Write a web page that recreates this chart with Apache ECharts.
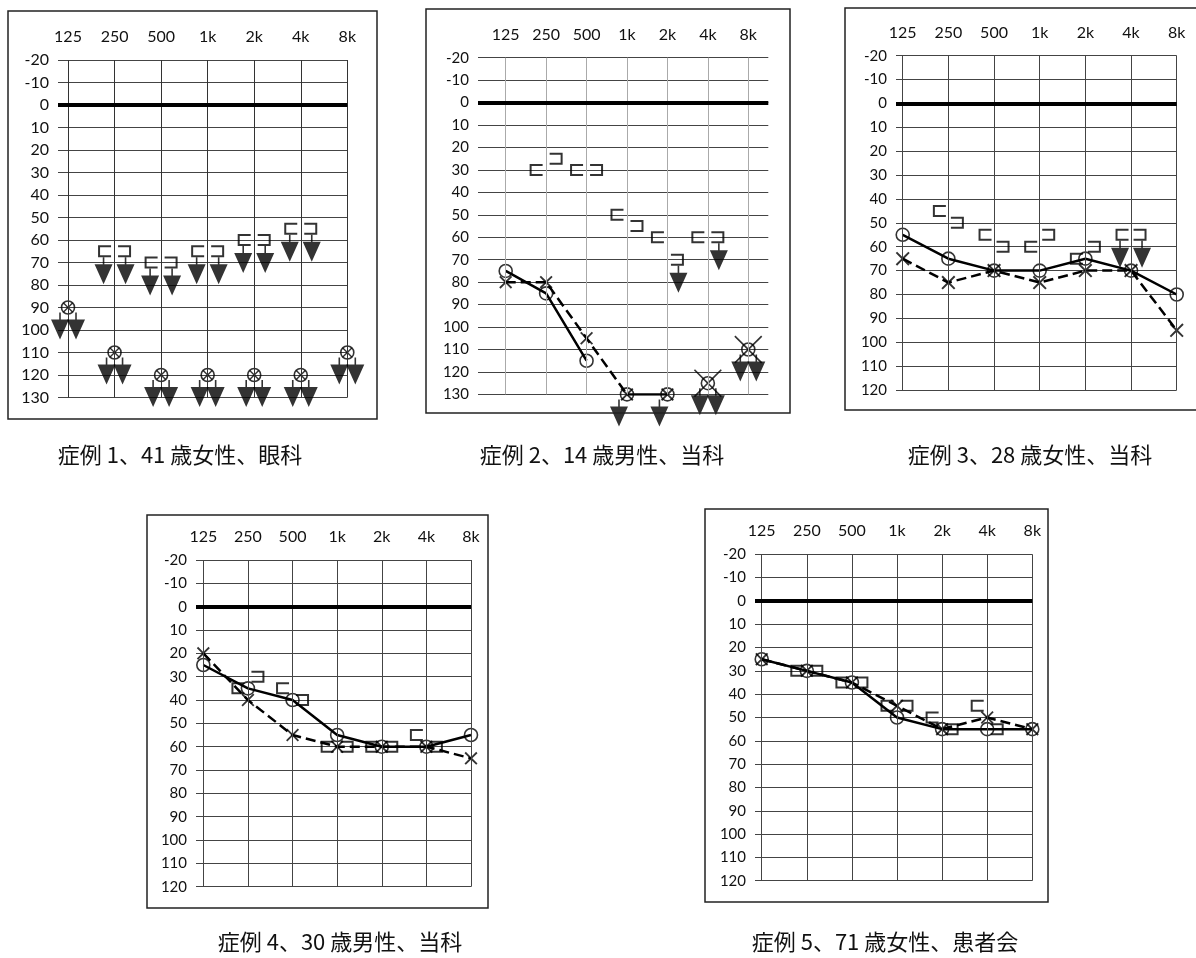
<!DOCTYPE html>
<html><head><meta charset="utf-8">
<script src="https://cdn.jsdelivr.net/npm/echarts@6/dist/echarts.min.js"></script>
<style>html,body{margin:0;padding:0;background:#fff}#c{width:1196px;height:958px}</style>
</head><body><div id="c"></div>
<script>
// ---------- data ----------
const freqLabels = ['125', '250', '500', '1k', '2k', '4k', '8k'];
const captions = ['症例 1、41 歳女性、眼科', '症例 2、14 歳男性、当科', '症例 3、28 歳女性、当科', '症例 4、30 歳男性、当科', '症例 5、71 歳女性、患者会'];

// 症例1
const c1RightAC = [90, 110, 120, 120, 120, 120, 110];
const c1LeftAC  = [90, 110, 120, 120, 120, 120, 110];
const c1RightBC = [null, 65, 70, 65, 60, 55, null];
const c1LeftBC  = [null, 65, 70, 65, 60, 55, null];
const c1RightACOut = [90, 110, 120, 120, 120, 120, 110];
const c1LeftACOut  = [90, 110, 120, 120, 120, 120, 110];
const c1RightBCOut = [null, 65, 70, 65, 60, 55, null];
const c1LeftBCOut  = [null, 65, 70, 65, 60, 55, null];

// 症例2
const c2RightAC = [75, 85, 115, 130, 130, 125, 110];
const c2LeftAC  = [80, 80, 105, 130, 130, 125, 110];
const c2RightBC = [null, 30, 30, 50, 60, 60, null];
const c2LeftBC  = [null, 25, 30, 55, 70, 60, null];
const c2RightACOut = [null, null, null, 130, 130, 125, 110];
const c2LeftACOut  = [null, null, null, null, null, 125, 110];
const c2RightBCOut = [null, null, null, null, null, null, null];
const c2LeftBCOut  = [null, null, null, null, 70, 60, null];

// 症例3
const c3RightAC = [55, 65, 70, 70, 65, 70, 80];
const c3LeftAC  = [65, 75, 70, 75, 70, 70, 95];
const c3RightBC = [null, 45, 55, 60, 65, 55, null];
const c3LeftBC  = [null, 50, 60, 55, 60, 55, null];
const c3RightBCOut = [null, null, null, null, null, 55, null];
const c3LeftBCOut  = [null, null, null, null, null, 55, null];

// 症例4
const c4RightAC = [25, 35, 40, 55, 60, 60, 55];
const c4LeftAC  = [20, 40, 55, 60, 60, 60, 65];
const c4RightBC = [null, 35, 35, 60, 60, 55, null];
const c4LeftBC  = [null, 30, 40, 60, 60, 60, null];

// 症例5
const c5RightAC = [25, 30, 35, 50, 55, 55, 55];
const c5LeftAC  = [25, 30, 35, 45, 55, 50, 55];
const c5RightBC = [null, 30, 35, 45, 50, 45, null];
const c5LeftBC  = [null, 30, 35, 45, 55, 55, null];

const none7 = [null, null, null, null, null, null, null];

const cases = [
  {rAC: c1RightAC, lAC: c1LeftAC, rBC: c1RightBC, lBC: c1LeftBC, rACo: c1RightACOut, lACo: c1LeftACOut, rBCo: c1RightBCOut, lBCo: c1LeftBCOut},
  {rAC: c2RightAC, lAC: c2LeftAC, rBC: c2RightBC, lBC: c2LeftBC, rACo: c2RightACOut, lACo: c2LeftACOut, rBCo: c2RightBCOut, lBCo: c2LeftBCOut},
  {rAC: c3RightAC, lAC: c3LeftAC, rBC: c3RightBC, lBC: c3LeftBC, rACo: none7, lACo: none7, rBCo: c3RightBCOut, lBCo: c3LeftBCOut},
  {rAC: c4RightAC, lAC: c4LeftAC, rBC: c4RightBC, lBC: c4LeftBC, rACo: none7, lACo: none7, rBCo: none7, lBCo: none7},
  {rAC: c5RightAC, lAC: c5LeftAC, rBC: c5RightBC, lBC: c5LeftBC, rACo: none7, lACo: none7, rBCo: none7, lBCo: none7}
];

// ---------- layout / style ----------
const layout = [
  {grid: {left: 58, top: 60, width: 289.3, height: 337.5}, xmin: -0.215, xmax: 6, ymax: 130, tick: 6, lblSize: 16,
   frame: [8, 11, 369, 408], cap: [180, 455], vcol: '#333', xSize: 10, rightSeg: [], leftSeg: [], bigX: [], bOff: 10},
  {grid: {left: 478, top: 57.7, width: 290.3, height: 336.7}, xmin: -0.685, xmax: 6.495, ymax: 130, tick: 0, lblSize: 15,
   frame: [426, 9, 364, 404], cap: [602, 455], vcol: '#aaa', xSize: 13, rightSeg: [[0, 2], [3, 4]], leftSeg: [[0, 3]], bigX: [5, 6], bOff: 10},
  {grid: {left: 896, top: 55.7, width: 280.7, height: 334.3}, xmin: -0.147, xmax: 6, ymax: 120, tick: 0, lblSize: 15,
   frame: [845, 8, 360, 402], cap: [1030, 455], vcol: '#444', xSize: 14, rightSeg: [[0, 6]], leftSeg: [[0, 6]], bigX: [], bOff: 9},
  {grid: {left: 196, top: 560, width: 275, height: 326.7}, xmin: -0.164, xmax: 6, ymax: 120, tick: 0, lblSize: 15,
   frame: [147, 515, 341, 393], cap: [340, 942], vcol: '#444', xSize: 13, rightSeg: [[0, 6]], leftSeg: [[0, 6]], bigX: [], bOff: 10},
  {grid: {left: 755, top: 554.3, width: 277.3, height: 326.4}, xmin: -0.149, xmax: 6, ymax: 120, tick: 0, lblSize: 15,
   frame: [705, 509, 343, 393], cap: [885, 942], vcol: '#444', xSize: 13, rightSeg: [[0, 6]], leftSeg: [[0, 6]], bigX: [], bOff: 10}
];

const SYM_X = 'path://M0,1.2 L1.2,0 L6,4.8 L10.8,0 L12,1.2 L7.2,6 L12,10.8 L10.8,12 L6,7.2 L1.2,12 L0,10.8 L4.8,6 Z';
const SYM_XBIG = 'path://M0,0.5 L0.5,0 L6,5.5 L11.5,0 L12,0.5 L6.5,6 L12,11.5 L11.5,12 L6,6.5 L0.5,12 L0,11.5 L5.5,6 Z';
const SYM_LB = 'path://M0,0 L13,0 L13,2 L2,2 L2,10 L13,10 L13,12 L0,12 Z';
const SYM_RB = 'path://M0,0 L13,0 L13,12 L0,12 L0,10 L11,10 L11,2 L0,2 Z';
const SYM_ARROW = 'path://M8.2,0 L9.8,0 L9.8,7 L18,7 L9,27 L0,7 L8.2,7 Z';

const pts = arr => arr.map((v, i) => v == null ? null : [i, v]).filter(d => d);

const grids = [], xAxes = [], yAxes = [], series = [], graphics = [];
const idx7 = [0, 1, 2, 3, 4, 5, 6];

layout.forEach((L, k) => {
  const C = cases[k];
  grids.push(Object.assign({containLabel: false}, L.grid));
  xAxes.push({
    type: 'value', gridIndex: k, min: L.xmin, max: L.xmax, position: 'top',
    axisLine: {show: false}, axisTick: {show: false}, splitLine: {show: false},
    axisLabel: {customValues: idx7, formatter: v => freqLabels[Math.round(v)], margin: 15,
      fontSize: 16, color: '#111', fontFamily: 'Lato'}
  });
  yAxes.push({
    type: 'value', gridIndex: k, inverse: true, min: -20, max: L.ymax, interval: 10,
    axisLine: {show: false},
    axisTick: {show: L.tick > 0, length: L.tick, lineStyle: {color: '#444'}},
    splitLine: {show: true, lineStyle: {color: '#444', width: 1}},
    axisLabel: {margin: 9, fontSize: L.lblSize, color: '#111', fontFamily: 'Lato'}
  });
  const ax = {xAxisIndex: k, yAxisIndex: k};
  // grid verticals + 0 dB line
  series.push(Object.assign({
    type: 'line', data: [], z: 1, silent: true,
    markLine: {
      symbol: 'none', silent: true, label: {show: false}, animation: false,
      data: idx7.map(i => ({xAxis: i, lineStyle: {color: L.vcol, width: 1, type: 'solid'}}))
        .concat([{yAxis: 0, lineStyle: {color: '#000', width: 4, type: 'solid'}}])
    }
  }, ax));
  // right AC lines (solid)
  L.rightSeg.forEach(([a, b]) => {
    series.push(Object.assign({type: 'line', symbol: 'none', z: 3, animation: false,
      lineStyle: {color: '#000', width: 2.5, type: 'solid'},
      data: C.rAC.slice(a, b + 1).map((v, j) => [a + j, v])}, ax));
  });
  // left AC lines (dashed)
  L.leftSeg.forEach(([a, b]) => {
    series.push(Object.assign({type: 'line', symbol: 'none', z: 3, animation: false,
      lineStyle: {color: '#000', width: 2.5, type: [10, 5]},
      data: C.lAC.slice(a, b + 1).map((v, j) => [a + j, v])}, ax));
  });
  // right AC circles
  series.push(Object.assign({type: 'scatter', symbol: 'circle', symbolSize: 13, z: 4, clip: false,
    itemStyle: {color: 'rgba(0,0,0,0)', borderColor: '#000', borderWidth: 1.6},
    data: pts(C.rAC)}, ax));
  // left AC crosses
  series.push(Object.assign({type: 'scatter', z: 4, clip: false,
    itemStyle: {color: '#000'},
    data: pts(C.lAC).map(d => L.bigX.includes(d[0])
      ? {value: d, symbol: SYM_XBIG, symbolSize: 28}
      : {value: d, symbol: SYM_X, symbolSize: L.xSize})}, ax));
  // bone conduction brackets
  series.push(Object.assign({type: 'scatter', symbol: SYM_LB, symbolSize: [13, 12], symbolOffset: [-L.bOff, 0], z: 4, clip: false,
    itemStyle: {color: '#000'}, data: pts(C.rBC)}, ax));
  series.push(Object.assign({type: 'scatter', symbol: SYM_RB, symbolSize: [13, 12], symbolOffset: [L.bOff, 0], z: 4, clip: false,
    itemStyle: {color: '#000'}, data: pts(C.lBC)}, ax));
  // scale-out arrows
  const arrow = (arr, dx, dy) => series.push(Object.assign({type: 'scatter', symbol: SYM_ARROW, symbolSize: [18, 27],
    symbolOffset: [dx, dy], z: 5, clip: false, itemStyle: {color: '#000'}, data: pts(arr)}, ax));
  arrow(C.rACo, -8, 18.5);
  arrow(C.lACo, 8, 18.5);
  arrow(C.rBCo, -11, 19.5);
  arrow(C.lBCo, 11, 19.5);

  // frame + caption
  graphics.push({type: 'rect', silent: true, z: 10,
    shape: {x: L.frame[0], y: L.frame[1], width: L.frame[2], height: L.frame[3]},
    style: {fill: 'none', stroke: '#222', lineWidth: 1.5}});
  graphics.push({type: 'text', silent: true, x: L.cap[0], y: L.cap[1],
    style: {text: captions[k], fill: '#111', font: '22px "Noto Sans CJK JP"', textAlign: 'center', textVerticalAlign: 'middle'}});
});

const chart = echarts.init(document.getElementById('c'), null, {renderer: 'canvas'});
chart.setOption({
  animation: false,
  backgroundColor: '#fff',
  grid: grids, xAxis: xAxes, yAxis: yAxes, series: series, graphic: graphics
});
</script></body></html>
